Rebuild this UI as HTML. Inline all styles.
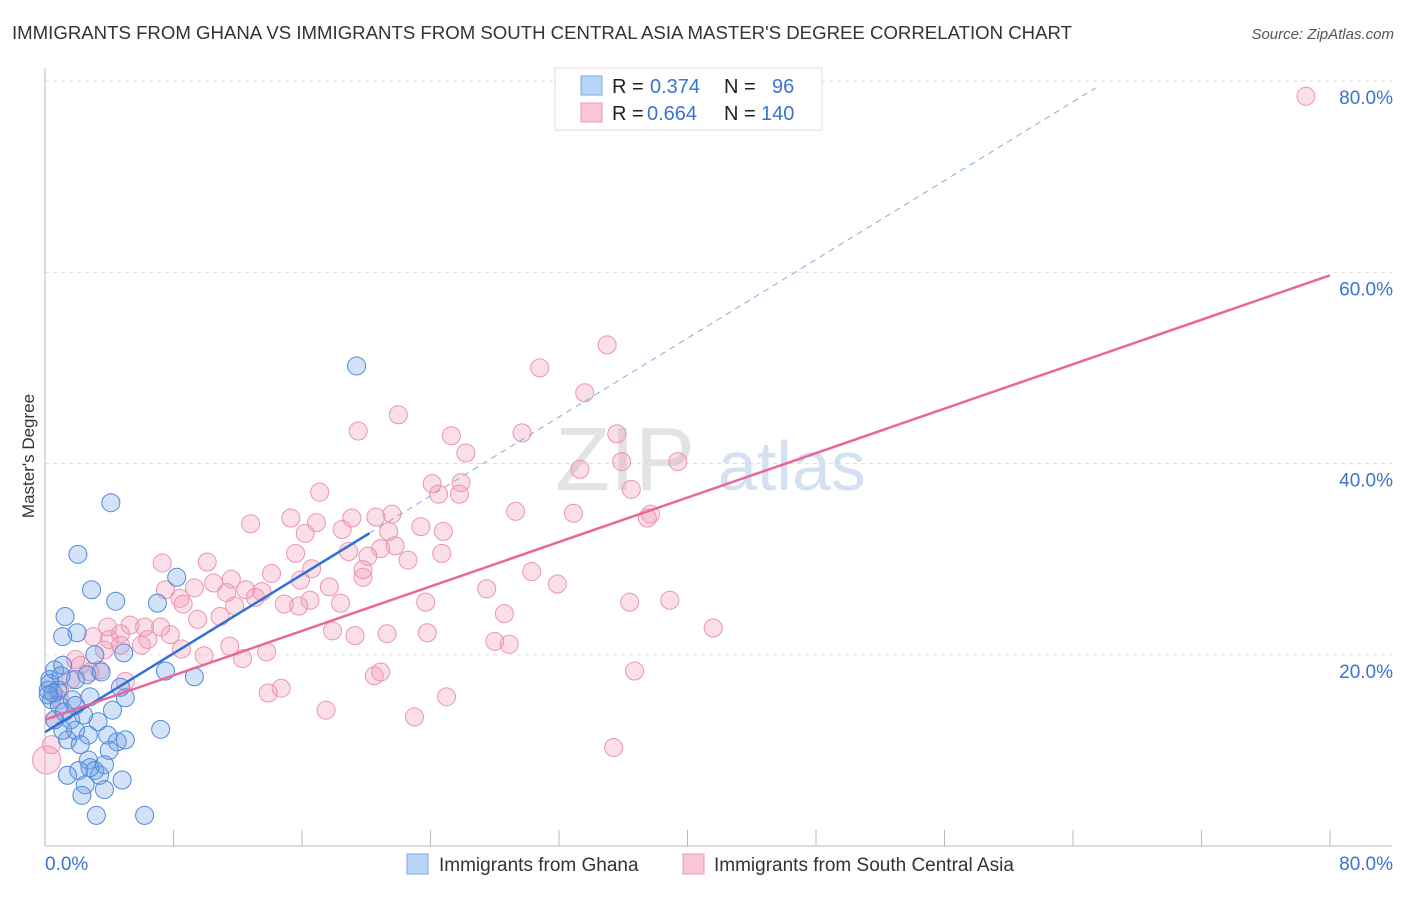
<!DOCTYPE html>
<html><head><meta charset="utf-8"><style>
body{margin:0;background:#fff;font-family:"Liberation Sans",sans-serif}
svg text{font-family:"Liberation Sans",sans-serif}
</style></head><body>
<svg id="chart" width="1406" height="892" xmlns="http://www.w3.org/2000/svg">
<text x="12" y="39" font-size="18" fill="#333" textLength="1060" lengthAdjust="spacingAndGlyphs">IMMIGRANTS FROM GHANA VS IMMIGRANTS FROM SOUTH CENTRAL ASIA MASTER'S DEGREE CORRELATION CHART</text>
<text x="1394" y="39" font-size="15" fill="#555" font-style="italic" text-anchor="end">Source: ZipAtlas.com</text>
<text x="34" y="456" font-size="17" fill="#333" text-anchor="middle" transform="rotate(-90 34 456)">Master's Degree</text>
<g>
<text x="555" y="490" font-size="90" fill="#ddd" font-family="Liberation Serif" opacity="0.8">ZIP</text>
<text x="718" y="490" font-size="70" fill="#c9daf0" opacity="0.8">atlas</text>
</g>
<g id="grid"></g><g id="axes"></g><g id="pts"></g><g id="trend"></g>
<g>
<rect x="555" y="68" width="267" height="62" fill="#fff" stroke="#ddd"/>
<rect x="581" y="76" width="21" height="19" fill="#b9d3f5" stroke="#7aa8e6"/>
<rect x="581" y="103" width="21" height="19" fill="#f9c6d5" stroke="#eb9ab4"/>
<text x="612" y="93" font-size="20" fill="#222">R = <tspan x="650" fill="#3b73d1">0.374</tspan><tspan x="724">N = </tspan><tspan x="772" fill="#3b73d1">96</tspan></text>
<text x="612" y="120" font-size="20" fill="#222">R = <tspan x="647" fill="#3b73d1">0.664</tspan><tspan x="724">N = </tspan><tspan x="761" fill="#3b73d1">140</tspan></text>
</g>
<g>
<rect x="407" y="854" width="21" height="20" fill="#b9d3f5" stroke="#7aa8e6"/>
<text x="439" y="871" font-size="19" fill="#333">Immigrants from Ghana</text>
<rect x="683" y="854" width="21" height="20" fill="#f9c6d5" stroke="#eb9ab4"/>
<text x="714" y="871" font-size="19" fill="#333">Immigrants from South Central Asia</text>
</g>
</svg>
<script>
const yTicks=[20,40,60,80];
const xTickLabels=["0.0%","80.0%"];
const blueX=[19.4,4.1,2.05,2.9,1.25,4.4,8.2,7.0,2.0,1.1,4.9,7.5,9.3,7.2,0.6,0.3,0.8,0.4,0.9,1.2,1.6,1.9,1.4,2.2,2.7,3.1,3.4,2.5,2.3,3.7,3.2,6.2,4.8,3.9,4.5,4.0,5.0,4.7,4.2,3.3,2.8,2.6,3.5,1.9,3.1,1.1,1.7,0.2,0.6,1.1,2.1,1.4,2.8,3.7,5.0,1.9,2.4,2.7,0.3,0.5,1.0,0.2];
const blueY=[50.2,35.9,30.5,26.8,24.0,25.6,28.1,25.4,22.3,21.9,20.2,18.3,17.7,12.2,18.4,17.4,16.3,15.3,14.7,14.0,13.2,12.1,11.1,10.6,9.0,7.9,7.4,6.4,5.3,5.9,3.2,3.2,6.9,11.6,10.9,10.0,15.5,16.6,14.2,13.0,15.6,17.9,18.2,17.4,20.0,18.9,15.3,16.3,13.2,12.1,7.9,7.4,8.2,8.5,11.1,14.7,13.7,11.6,17.0,16.0,17.8,15.8];
const pinkX=[78.5,35.0,30.8,33.6,22.0,19.5,25.3,29.7,35.6,26.2,33.3,35.9,39.4,24.1,24.5,25.9,25.8,17.1,36.5,29.3,32.9,37.5,37.7,21.6,20.6,19.1,15.3,12.8,16.9,18.5,21.4,23.4,24.8,16.2,21.8,20.9,18.9,20.1,24.7,22.6,15.6,7.3,10.1,16.6,19.8,30.3,14.1,15.9,11.6,10.5,19.8,31.9,27.5,17.7,12.5,13.5,7.5,9.3,11.3,13.1,8.4,16.5,14.9,18.4,23.7,36.4,38.9,15.8,11.8,8.6,28.6,10.9,9.5,7.2,5.3,6.2,3.9,4.7,7.8,3.0,6.4,17.9,19.3,21.3,23.8,28.0,28.9,41.6,8.5,11.5,13.8,12.3,9.9,3.7,4.7,2.2,2.8,1.6,3.4,20.5,20.9,36.7,14.7,13.9,25.0,17.5,23.0,35.4,5.0,0.9,0.6,0.4,0.1,0.9,1.9,4.0,6.0];
const pinkY=[78.4,52.4,50.0,47.4,45.1,43.4,42.9,43.2,43.1,41.1,39.4,40.2,40.2,37.9,36.8,38.0,36.8,37.0,37.3,35.0,34.8,34.3,34.7,34.7,34.4,34.3,34.3,33.7,33.8,33.1,32.9,33.4,32.9,32.7,31.4,31.1,30.8,30.3,30.6,29.9,30.6,29.6,29.7,29.0,28.9,28.7,28.5,27.8,27.9,27.5,28.1,27.4,26.9,27.1,26.8,26.6,26.8,27.0,26.5,26.0,25.9,25.7,25.3,25.4,25.5,25.5,25.7,25.1,25.1,25.3,24.3,24.0,23.7,22.9,23.1,22.9,22.9,22.2,22.1,21.9,21.6,22.5,22.0,22.2,22.3,21.4,21.1,22.8,20.6,20.9,20.3,19.6,19.9,20.5,21.0,18.9,18.2,17.4,18.4,17.8,18.2,18.3,16.5,16.0,15.6,14.2,13.5,10.3,17.2,15.3,13.2,10.6,9.0,16.3,19.5,21.6,21.0];
const blueFit=[11.9,1.03];
const pinkFit=[13.2,0.581];
const X0=45,X1=1330,Y0=846,Y1=81;
const sx=v=>X0+(X1-X0)*v/80, sy=v=>Y0-(Y0-Y1)*v/80;
const NS="http://www.w3.org/2000/svg";
function mk(tag,attrs,parent){const e=document.createElementNS(NS,tag);for(const k in attrs)e.setAttribute(k,attrs[k]);document.getElementById(parent).appendChild(e);return e;}
yTicks.forEach(t=>{
 const l=mk('line',{x1:X0,x2:1392,y1:sy(t),y2:sy(t),stroke:'#ddd','stroke-dasharray':'4 4'},'grid');
 
 
 const tx=mk('text',{x:1393,y:sy(t)+23,'font-size':19,fill:'#3b73d1','text-anchor':'end'},'grid');
 tx.textContent=t.toFixed(1)+'%';
 
 
});
const ya=mk('line',{x1:X0,x2:X0,y1:68,y2:Y0,stroke:'#bbb'},'axes');


const xa=mk('line',{x1:X0,x2:1392,y1:Y0,y2:Y0,stroke:'#bbb'},'axes');


for(let i=1;i<=10;i++){
 const t=mk('line',{x1:sx(i*8),x2:sx(i*8),y1:830,y2:Y0,stroke:'#bbb'},'axes');
 
 
}
const xl0=mk('text',{x:45,y:870,'font-size':19,fill:'#3b73d1'},'axes');xl0.textContent=xTickLabels[0];


const xl1=mk('text',{x:1393,y:870,'font-size':19,fill:'#3b73d1','text-anchor':'end'},'axes');xl1.textContent=xTickLabels[1];


pinkX.forEach((v,i)=>{
 const c=mk('circle',{cx:sx(v),cy:sy(pinkY[i]),r:(v<0.5&&pinkY[i]<10)?14:9,fill:'rgba(242,150,180,0.3)',stroke:'#ec94b2','stroke-width':1},'pts');
 
 
});
blueX.forEach((v,i)=>{
 const c=mk('circle',{cx:sx(v),cy:sy(blueY[i]),r:9,fill:'rgba(110,160,230,0.3)',stroke:'#4f8ad9','stroke-width':1},'pts');
 
 
});
const bd=mk('line',{x1:sx(20.2),y1:sy(blueFit[0]+blueFit[1]*20.2),x2:sx(65.4),y2:sy(blueFit[0]+blueFit[1]*65.4),stroke:'#7fa8e0','stroke-width':1,'stroke-dasharray':'6 5'},'trend');


const bl=mk('line',{x1:sx(0),y1:sy(blueFit[0]),x2:sx(20.2),y2:sy(blueFit[0]+blueFit[1]*20.2),stroke:'#2f6fd6','stroke-width':2.5},'trend');


const pl=mk('line',{x1:sx(0),y1:sy(pinkFit[0]),x2:sx(80),y2:sy(pinkFit[0]+pinkFit[1]*80),stroke:'#e8679a','stroke-width':2.5},'trend');


</script>
</body></html>
